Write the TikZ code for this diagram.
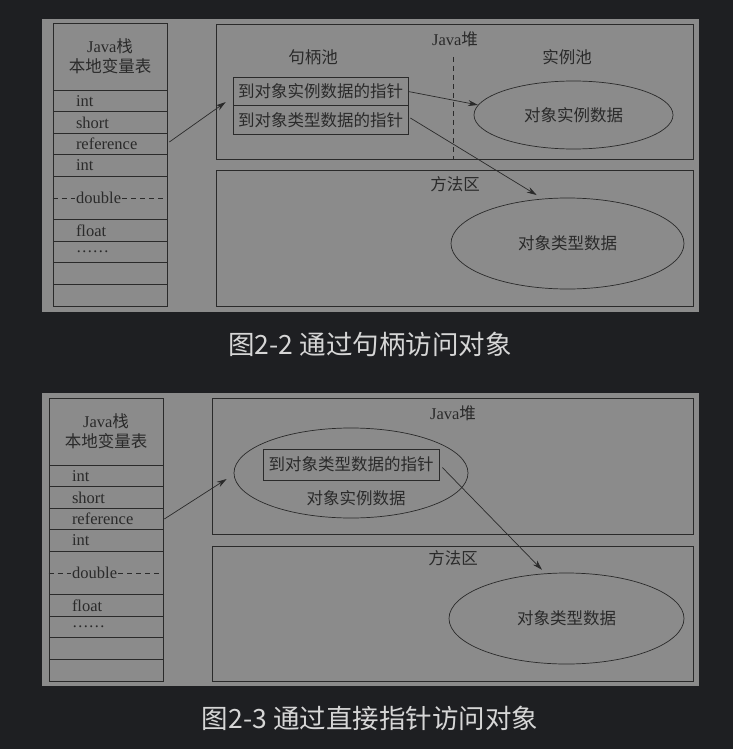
\documentclass[tikz,border=0pt]{standalone}
\usepackage{fontspec}
\setmainfont{Liberation Serif}
\newfontfamily\cjk{Noto Sans CJK SC}
\usetikzlibrary{arrows.meta,shapes.geometric}

\definecolor{bgdark}{HTML}{1E1F22}
\definecolor{panel}{HTML}{8B8B8B}
\definecolor{ink}{HTML}{2A2A2A}
\definecolor{capgray}{HTML}{D6D6D6}

\tikzset{
    box/.style={draw=ink,line width=0.7pt,inner sep=0pt},
    slot/.style={box,minimum width=114pt,minimum height=21.6pt,text width=68pt,align=left},
    oval/.style={draw=ink,line width=0.7pt,ellipse,inner sep=0pt},
    ptr/.style={->,>={Stealth[length=10pt,width=6pt]},line width=0.7pt,ink},
    gap/.style={ink,line width=0.6pt,dash pattern=on 5pt off 4pt},
    caption/.style={text=capgray,font=\cjk\fontsize{26.5pt}{30pt}\selectfont}
}

\begin{document}
\begin{tikzpicture}[x=1pt,y=-1pt,every node/.style={text=ink,font=\fontsize{16.5pt}{20pt}\selectfont}]
            \fill[bgdark] (0,0) rectangle (733,749);

            % figure 2-2: handle
            \fill[panel] (42,19) rectangle (699,312);
            \node[box,minimum width=114pt,minimum height=67pt,align=center] (aHead) at (110,56.5) {Java{\cjk 栈}\\{\cjk 本地变量表}};
            \node[slot] (aR1) at (110,100.8) {int};
            \node[slot] (aR2) at (110,122.4) {short};
            \node[slot] (aRef) at (110,144) {reference};
            \node[slot] (aR4) at (110,165.6) {int};
            \node[slot,minimum height=43.2pt] (aDbl) at (110,198) {};
            \node[anchor=west,inner xsep=1pt] (aDblTxt) at (75,198) {double};
            \draw[gap] (aDbl.west) -- (aDblTxt.west) (aDblTxt.east) -- (aDbl.east);
            \node[slot] (aR6) at (110,230.4) {float};
            \node[slot] (aR7) at (110,252) {……};
            \node[slot] (aR8) at (110,273.6) {};
            \node[slot] (aR9) at (110,295.2) {};

            \node[box,minimum width=477pt,minimum height=135pt] (aHeap) at (454.5,91.5) {};
            \node[box,minimum width=477pt,minimum height=136pt] (aMethod) at (454.5,238) {};
            \node (aPoolLbl) at (313,57) {\cjk 句柄池};
            \node (aHeapLbl) at (455,39) {Java{\cjk 堆}};
            \node (aInstLbl) at (567,57) {\cjk 实例池};
            \node (aMethodLbl) at (455,184) {\cjk 方法区};
            \draw[gap] (453,57) -- (453,159);

            \node[box,minimum width=175pt,minimum height=28.5pt] (aPtrI) at (320.5,91.5) {\cjk 到对象实例数据的指针};
            \node[box,minimum width=175pt,minimum height=28.5pt] (aPtrII) at (320.5,120) {\cjk 到对象类型数据的指针};
            \node[oval,minimum width=199pt,minimum height=68pt] (aInst) at (573.5,115) {\cjk 对象实例数据};
            \node[oval,minimum width=233pt,minimum height=91pt] (aType) at (567.5,243.5) {\cjk 对象类型数据};

            \draw[ptr] ([shift={(2,-2)}]aRef.east) -- ([shift={(-7,-4)}]aPtrI.south west);
            \draw[ptr] (aPtrI.east) -- (aInst.174);
            \draw[ptr,shorten >=7pt] ([shift={(2,-2)}]aPtrII.east) -- (aType.119);

            \node[caption] (aCap) at (370,344) {图2-2 通过句柄访问对象};

            % figure 2-3: direct pointer
            \fill[panel] (42,393) rectangle (699,686);
            \node[box,minimum width=114pt,minimum height=67pt,align=center] (bHead) at (106,431.5) {Java{\cjk 栈}\\{\cjk 本地变量表}};
            \node[slot] (bR1) at (106,475.8) {int};
            \node[slot] (bR2) at (106,497.4) {short};
            \node[slot] (bRef) at (106,519) {reference};
            \node[slot] (bR4) at (106,540.6) {int};
            \node[slot,minimum height=43.2pt] (bDbl) at (106,573) {};
            \node[anchor=west,inner xsep=1pt] (bDblTxt) at (71,573) {double};
            \draw[gap] (bDbl.west) -- (bDblTxt.west) (bDblTxt.east) -- (bDbl.east);
            \node[slot] (bR6) at (106,605.4) {float};
            \node[slot] (bR7) at (106,627) {……};
            \node[slot] (bR8) at (106,648.6) {};
            \node[slot] (bR9) at (106,670.2) {};

            \node[box,minimum width=481pt,minimum height=136pt] (bHeap) at (452.5,466) {};
            \node[box,minimum width=481pt,minimum height=135pt] (bMethod) at (452.5,613.5) {};
            \node (bHeapLbl) at (453,413) {Java{\cjk 堆}};
            \node (bMethodLbl) at (453,558) {\cjk 方法区};

            \node[oval,minimum width=234pt,minimum height=90pt] (bInst) at (351,473) {};
            \node[box,minimum width=176pt,minimum height=31pt] (bPtr) at (351,464.5) {\cjk 到对象类型数据的指针};
            \node (bInstTxt) at (356,498) {\cjk 对象实例数据};
            \node[oval,minimum width=235pt,minimum height=91pt] (bType) at (566.5,618.5) {\cjk 对象类型数据};

            \draw[ptr] ([shift={(1,0)}]bRef.east) -- ([shift={(-7,6)}]bInst.west);
            \draw[ptr,shorten >=5pt] ([shift={(3,3)}]bPtr.east) -- (bType.115);

            \node[caption] (bCap) at (370,718) {图2-3 通过直接指针访问对象};
        \end{tikzpicture}
\end{document}
